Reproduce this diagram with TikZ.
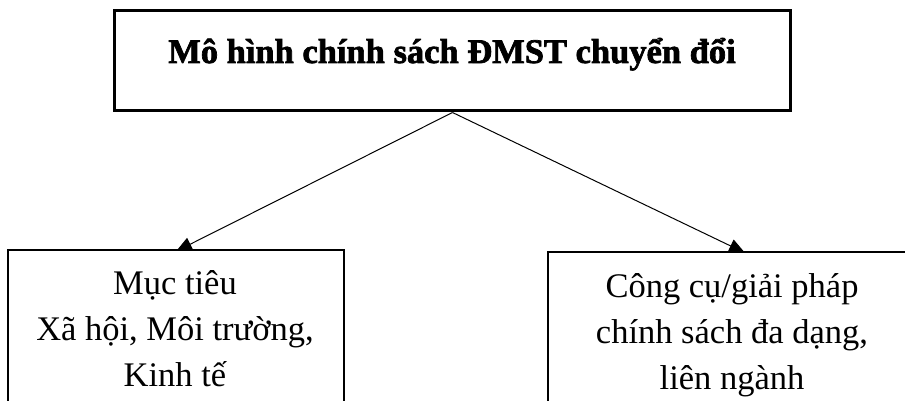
\documentclass[tikz,border=0pt]{standalone}
\usepackage{fontspec}
\setmainfont{Liberation Serif}[BoldFeatures={FakeBold=2}]
\usetikzlibrary{arrows.meta,calc}
\pgfdeclarelayer{bg}
\pgfsetlayers{bg,main}
\begin{document}
\begin{tikzpicture}[x=1pt,y=-1pt,
  mainbox/.style={draw, line width=3pt, fill=white, minimum width=676pt, minimum height=100pt, inner sep=0pt},
  subbox/.style={draw, line width=1.3pt, fill=white, inner sep=0pt, minimum height=300pt},
  subtext/.style={align=center, inner sep=0pt, font=\fontsize{34.5}{46}\selectfont},
  link/.style={line width=1pt, -{Triangle[length=16pt,width=14pt]}}
]
\useasboundingbox (0,0) rectangle (905,401);
\clip (0,0) rectangle (905,401);
\node[mainbox] (top) at (452.5,61) {};
\node[anchor=base, inner sep=0pt, font=\fontsize{34.5}{40}\selectfont\bfseries] (title) at (452,63) {Mô hình chính sách ĐMST chuyển đổi};
\node[subbox, minimum width=336pt] (goalbox) at (176,400) {};
\node[subbox, minimum width=370pt] (toolbox) at (733,402) {};
\node[subtext] (goal) at (175,328.5) {Mục tiêu\\Xã hội, Môi trường,\\Kinh tế};
\node[subtext] (tool) at (732,335) {Công cụ/giải pháp\\chính sách đa dạng,\\liên ngành};
\coordinate (goalin) at ($(goalbox.north)+(0,2)$);
\coordinate (toolin) at ($(toolbox.north)+(12,1.5)$);
\begin{pgfonlayer}{bg}
\draw[link] (top.south) -- (goalin);
\draw[link] (top.south) -- (toolin);
\end{pgfonlayer}
\end{tikzpicture}
\end{document}
